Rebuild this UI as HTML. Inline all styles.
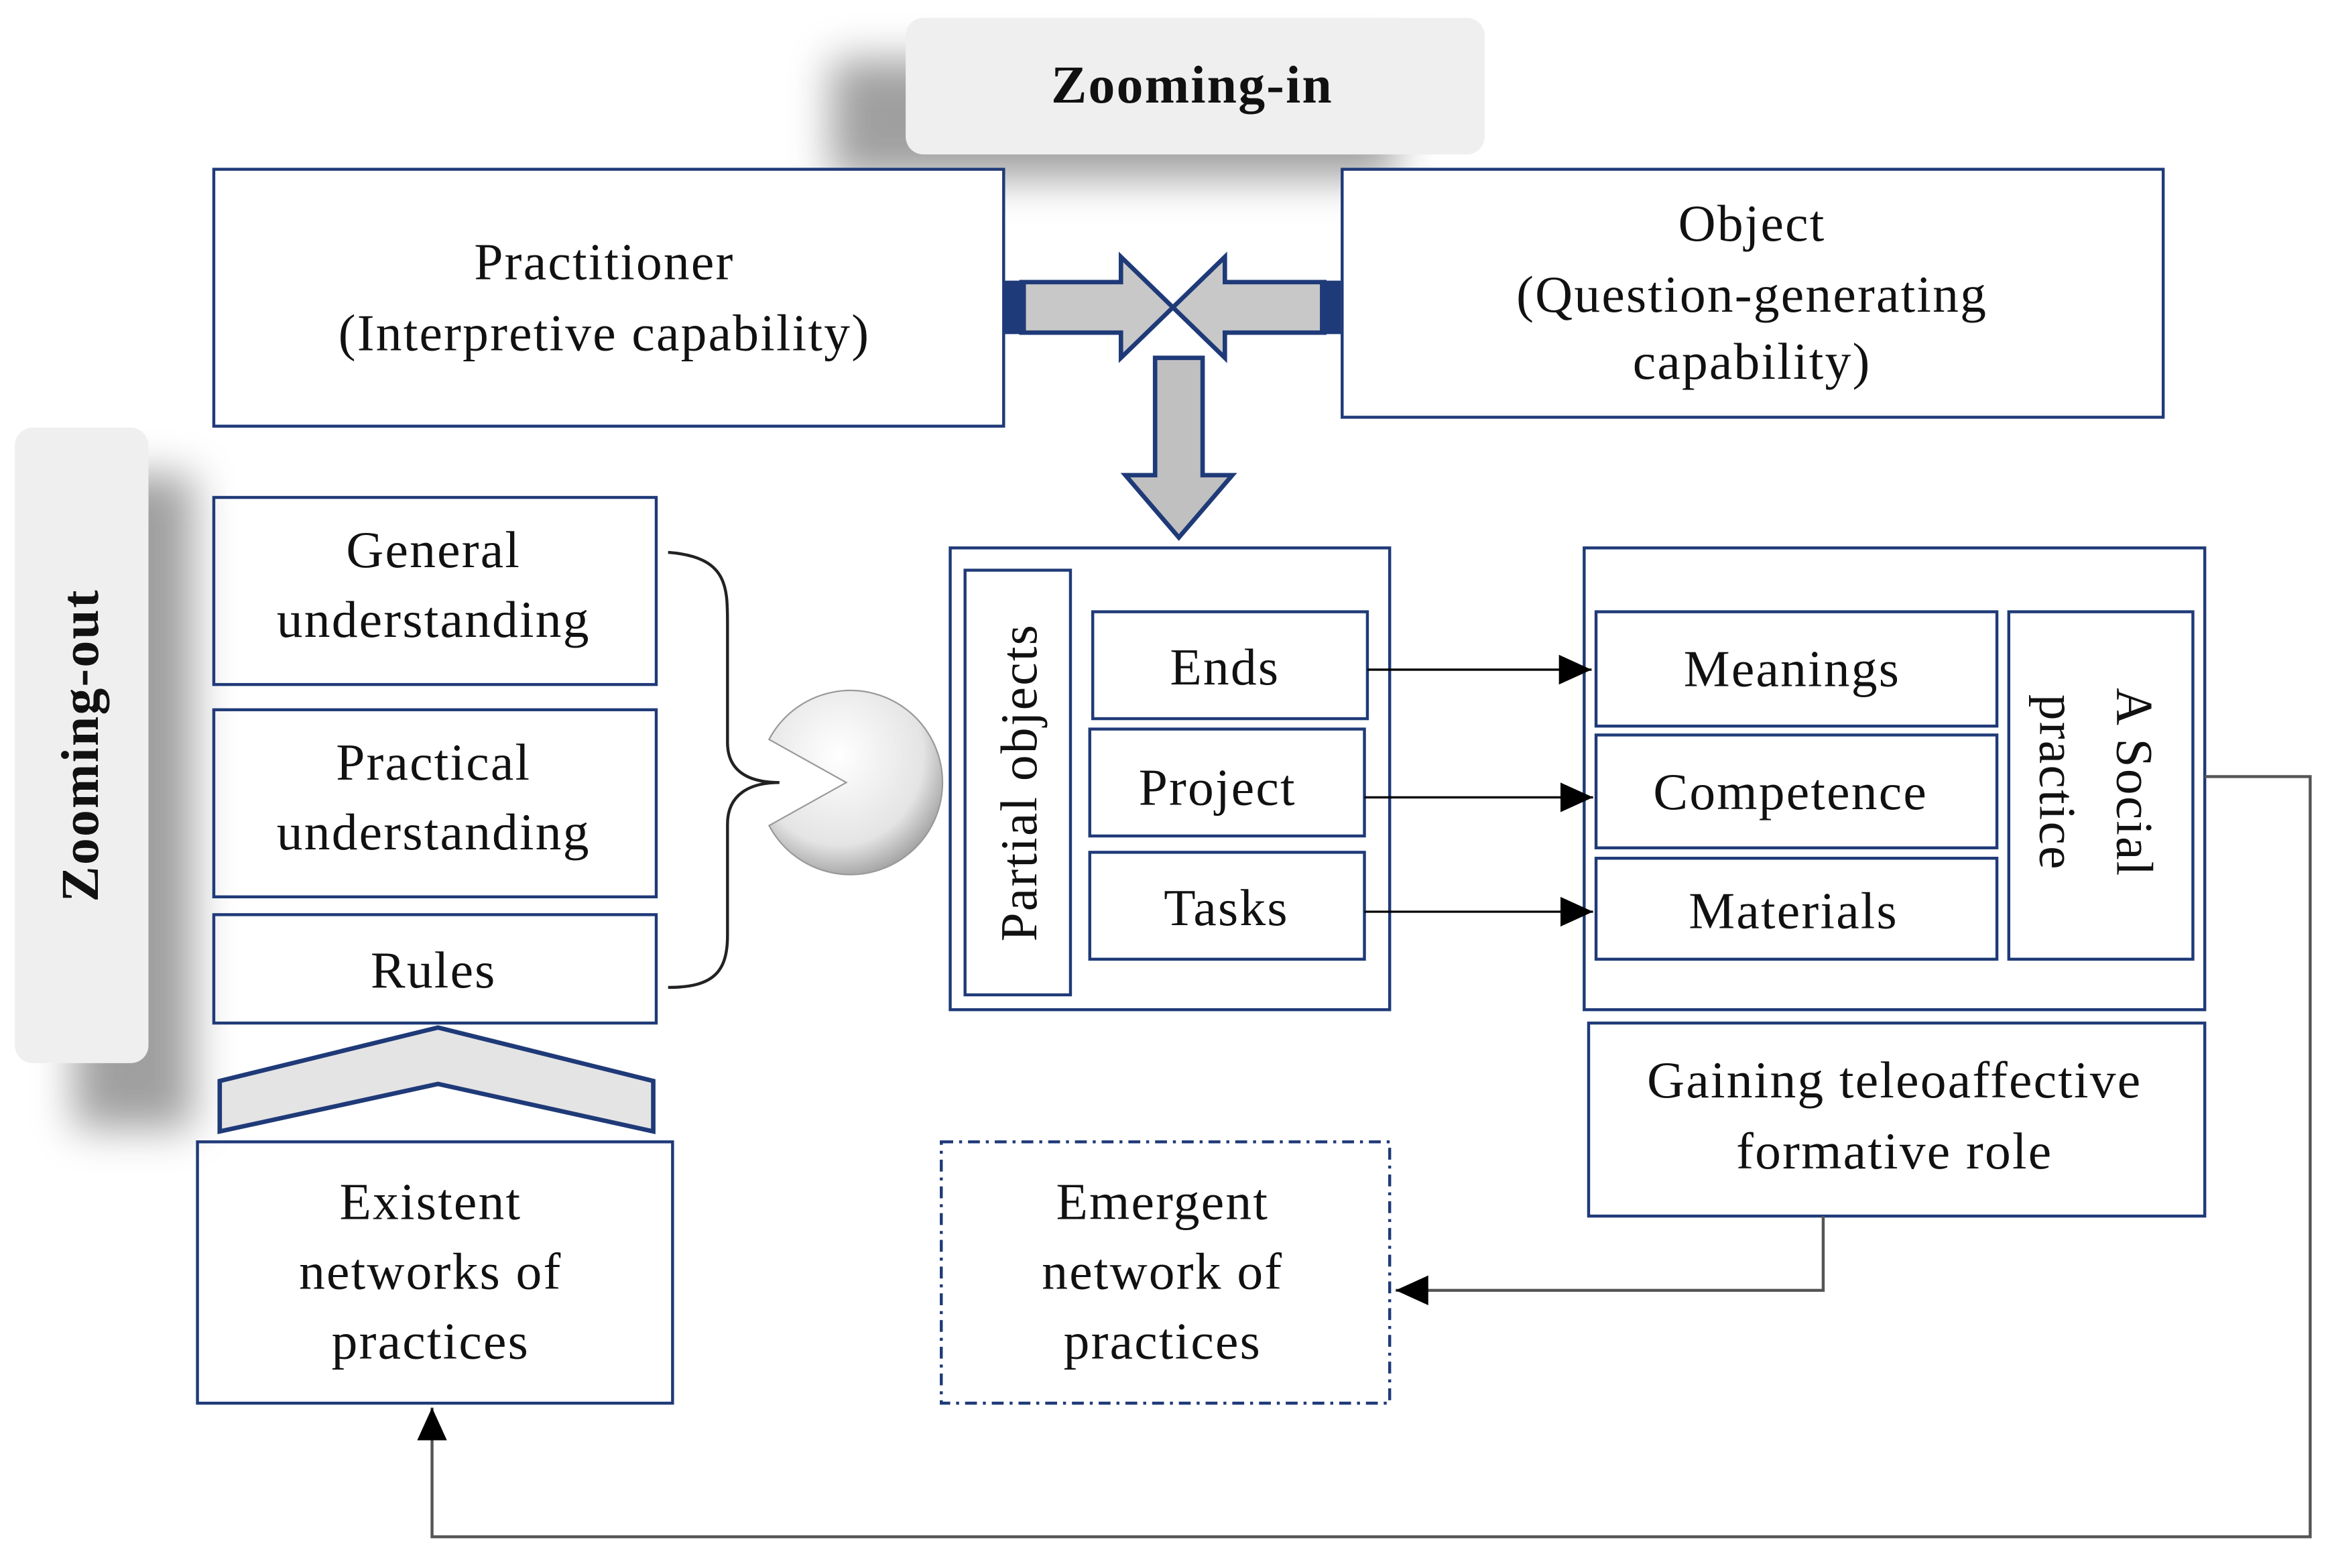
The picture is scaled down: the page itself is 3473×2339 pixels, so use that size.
<!DOCTYPE html>
<html><head><meta charset="utf-8"><style>
html,body{margin:0;padding:0;background:#fff;}
svg{display:block;}
text{font-family:"Liberation Serif",serif;fill:#111;}
</style></head><body>
<svg width="3473" height="2339" viewBox="0 0 1568 1056" xmlns="http://www.w3.org/2000/svg">
<defs>
<filter id="sh" x="-50%" y="-50%" width="200%" height="200%"><feGaussianBlur stdDeviation="14"/></filter>
<radialGradient id="pg" cx="0.4" cy="0.35" r="0.7"><stop offset="0" stop-color="#ffffff"/><stop offset="0.7" stop-color="#e4e4e4"/><stop offset="1" stop-color="#9a9a9a"/></radialGradient>
<marker id="ab" markerWidth="24" markerHeight="24" refX="22" refY="12" orient="auto" markerUnits="userSpaceOnUse"><path d="M0,2 L22,12 L0,22 z" fill="#000"/></marker>
</defs>
<g fill="none" stroke="#1f3a78" stroke-width="2">
<rect x="560" y="40" width="380" height="80" fill="#777" stroke="none" filter="url(#sh)" opacity="0.7"/>
<rect x="50" y="320" width="80" height="440" fill="#777" stroke="none" filter="url(#sh)" opacity="0.7"/>
<rect x="610" y="12" width="390" height="92" rx="12" fill="#efefef" stroke="none"/>
<rect x="10" y="288" width="90" height="428" rx="12" fill="#efefef" stroke="none"/>
<rect x="144" y="114" width="532" height="173" fill="#fff"/>
<rect x="904" y="114" width="553" height="167" fill="#fff"/>
<rect x="144" y="335" width="298" height="126"/>
<rect x="144" y="478" width="298" height="126"/>
<rect x="144" y="616" width="298" height="73"/>
<rect x="133" y="769" width="320" height="176"/>
<rect x="640" y="369" width="296" height="311"/>
<rect x="650" y="384" width="71" height="286"/>
<rect x="736" y="412" width="185" height="72"/>
<rect x="734" y="491" width="185" height="72"/>
<rect x="734" y="574" width="185" height="72"/>
<rect x="1067" y="369" width="418" height="311"/>
<rect x="1075" y="412" width="270" height="77"/>
<rect x="1075" y="495" width="270" height="76"/>
<rect x="1075" y="578" width="270" height="68"/>
<rect x="1353" y="412" width="124" height="234"/>
<rect x="1070" y="689" width="415" height="130"/>
<rect x="634" y="769" width="302" height="176" stroke-dasharray="8,4,2,4"/>
<path d="M450,372 C490,375 490,395 490,420 L490,500 C490,520 505,527 525,527 C505,527 490,535 490,555 L490,630 C490,655 480,665 450,665" stroke="#222"/>
<path d="M148,728 L295,692 L440,728 L440,762 L295,730 L148,762 Z" fill="#e4e4e4" stroke-width="3"/>
<path d="M688,190 L755,190 L755,173 L790,207 L755,241 L755,224 L688,224 Z" fill="#c8c8c8" stroke-width="3"/>
<path d="M892,190 L825,190 L825,173 L790,207 L825,241 L825,224 L892,224 Z" fill="#c8c8c8" stroke-width="3"/>
<rect x="678" y="190" width="12" height="34" fill="#1f3a78"/>
<rect x="890" y="190" width="12" height="34" fill="#1f3a78"/>
<path d="M778,241 L810,241 L810,320 L830,320 L794,362 L758,320 L778,320 Z" fill="#c0c0c0" stroke-width="3"/>
</g>
<path d="M518,498 L570,527 L518,556 A62,62 0 1 0 518,498 Z" fill="url(#pg)" stroke="#999" stroke-width="1"/>
<g stroke="#000" stroke-width="1.5" fill="none">
<line x1="921" y1="451" x2="1072" y2="451" marker-end="url(#ab)"/>
<line x1="919" y1="537" x2="1073" y2="537" marker-end="url(#ab)"/>
<line x1="919" y1="614" x2="1073" y2="614" marker-end="url(#ab)"/>
<polyline points="1485,523 1556,523 1556,1035 291,1035 291,948" stroke="#555" stroke-width="2" marker-end="url(#ab)"/>
<polyline points="1228,819 1228,869 940,869" stroke="#555" stroke-width="2" marker-end="url(#ab)"/>
</g>
<g font-size="35" text-anchor="middle" letter-spacing="1">
<text x="803" y="69" font-weight="bold" font-size="36">Zooming-in</text>
<text transform="translate(66,502) rotate(-90)" font-weight="bold" font-size="36">Zooming-out</text>
<text x="407" y="188">Practitioner</text>
<text x="407" y="236">(Interpretive capability)</text>
<text x="1180" y="162">Object</text>
<text x="1180" y="210">(Question-generating</text>
<text x="1180" y="255">capability)</text>
<text x="292" y="382">General</text>
<text x="292" y="429">understanding</text>
<text x="292" y="525">Practical</text>
<text x="292" y="572">understanding</text>
<text x="292" y="665">Rules</text>
<text x="290" y="821">Existent</text>
<text x="290" y="868">networks of</text>
<text x="290" y="915">practices</text>
<text transform="translate(698,527) rotate(-90)">Partial objects</text>
<text x="825" y="461">Ends</text>
<text x="820" y="542">Project</text>
<text x="826" y="623">Tasks</text>
<text x="1207" y="462">Meanings</text>
<text x="1206" y="545">Competence</text>
<text x="1208" y="625">Materials</text>
<text transform="translate(1426,527) rotate(90)">A Social</text>
<text transform="translate(1374,527) rotate(90)">practice</text>
<text x="1276" y="739">Gaining teleoaffective</text>
<text x="1276" y="787">formative role</text>
<text x="783" y="821">Emergent</text>
<text x="783" y="868">network of</text>
<text x="783" y="915">practices</text>
</g>
</svg>
</body></html>
